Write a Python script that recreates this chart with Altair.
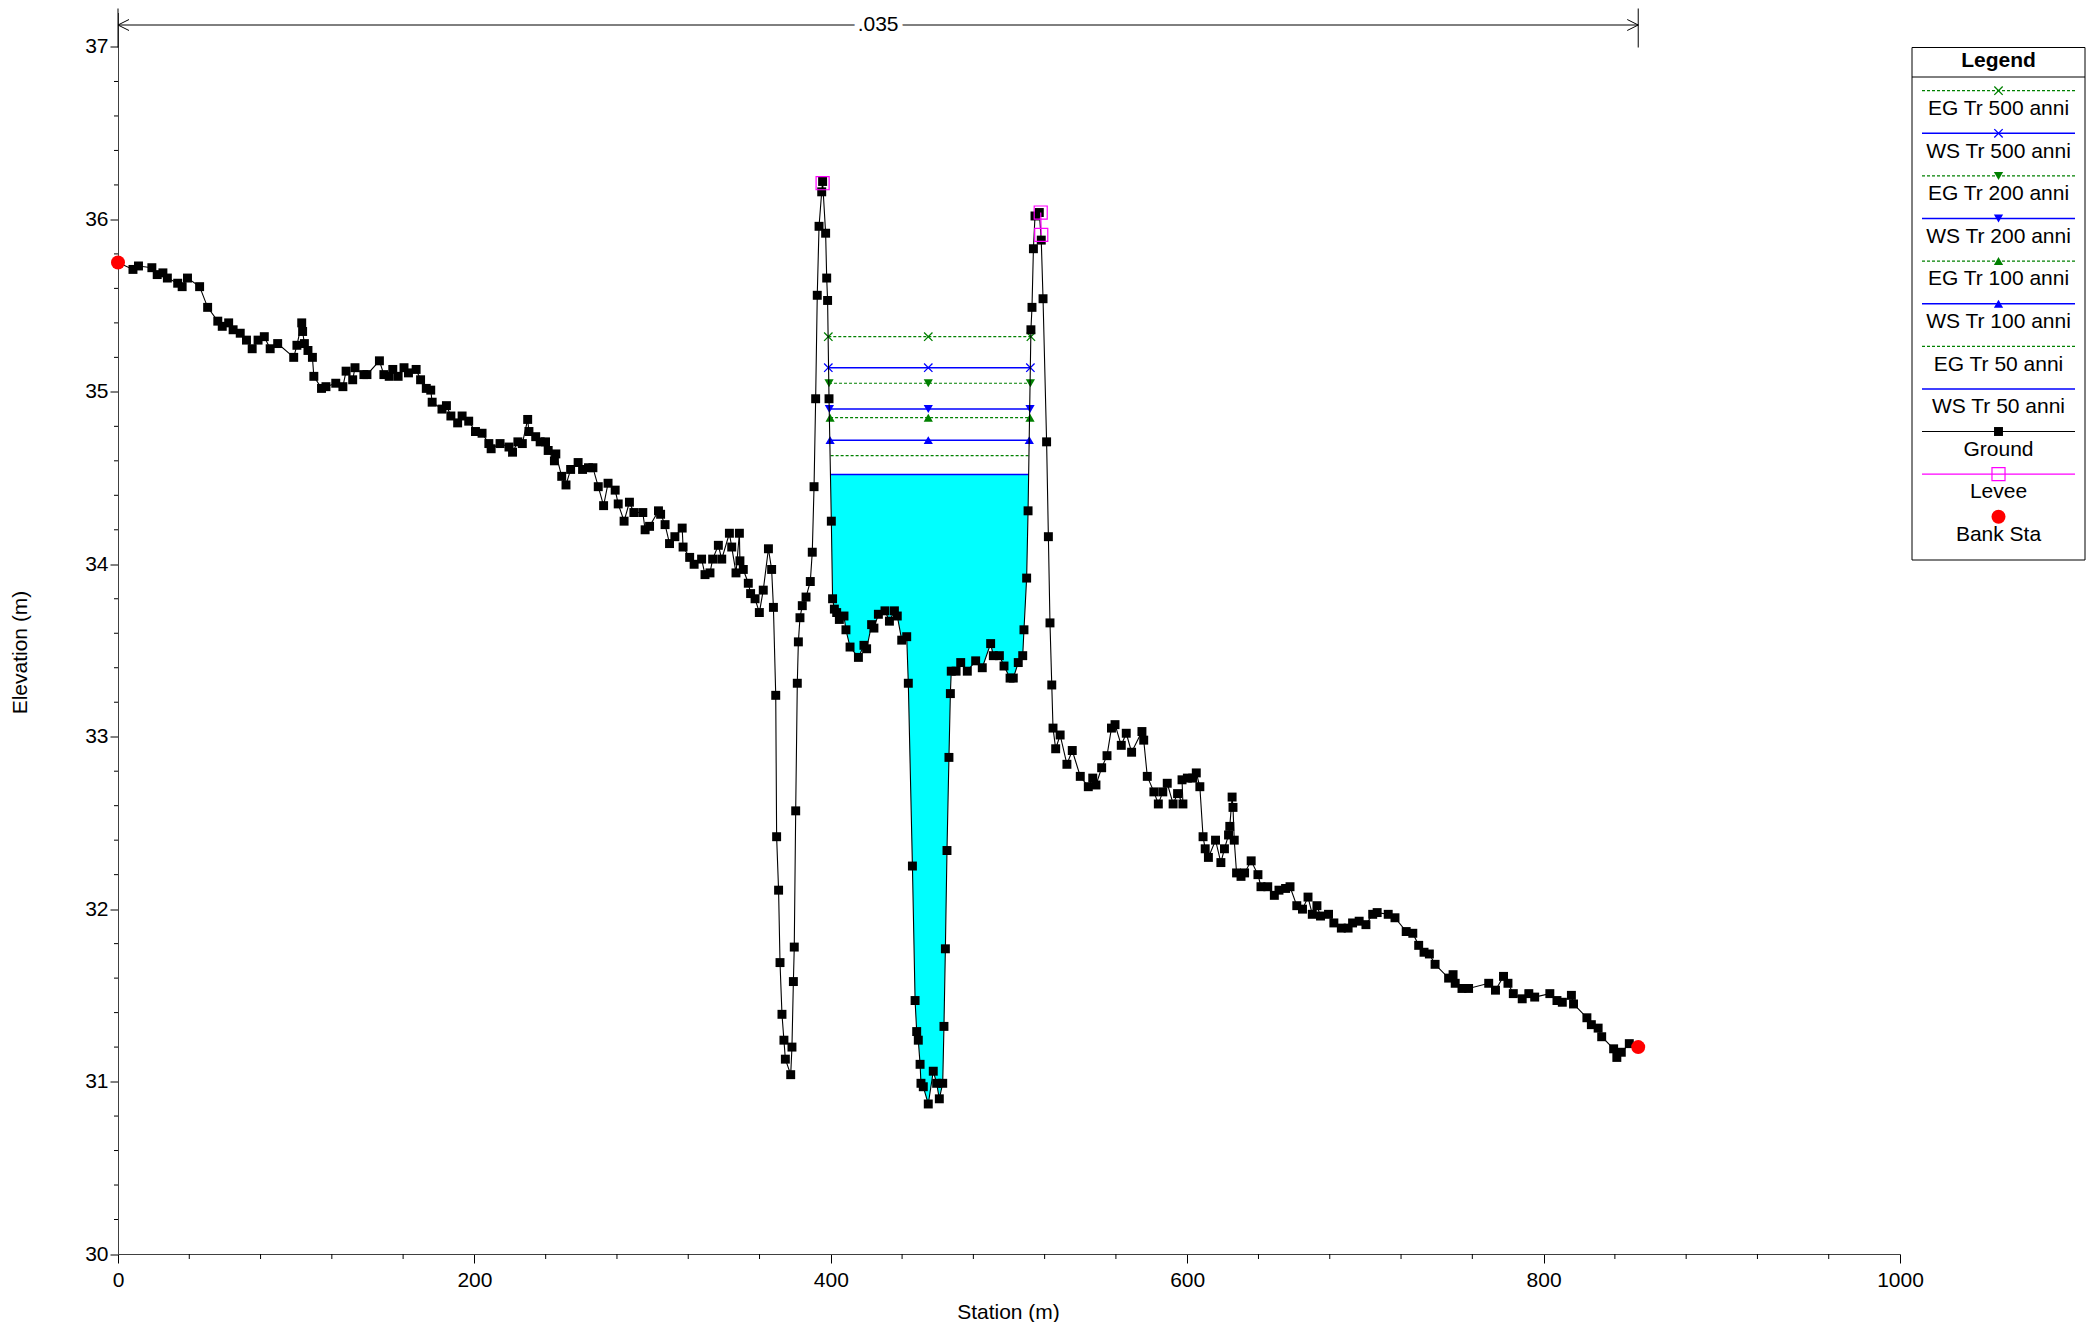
import altair as alt
import pandas as pd

FONT = "Liberation Sans"

# ---------------- data ----------------
ground_station = [
    0.0, 8.4, 11.5, 19.0, 22.0, 25.2, 27.7, 33.5, 36.0, 39.0, 45.8, 50.3, 56.0, 58.5, 62.1, 64.6,
    68.6, 72.1, 75.3, 78.6, 82.1, 85.4, 89.6, 98.6, 100.4, 103.1, 103.6, 104.6, 106.6, 109.1, 109.9,
    114.2, 116.7, 122.2, 126.2, 128.0, 131.7, 133.0, 138.0, 139.7, 146.7, 149.2, 152.2, 154.2, 157.2,
    160.5, 163.0, 167.3, 169.8, 173.0, 175.5, 176.3, 181.8, 184.3, 186.8, 190.6, 193.1, 196.8, 200.6,
    204.3, 208.1,
    209.4, 214.4, 219.4, 221.4, 224.4, 226.9, 229.9, 230.6, 234.4, 236.9, 239.9, 241.4, 244.9, 245.7,
    249.0, 251.4, 254.0, 258.2, 260.7, 264.0, 266.5, 269.5, 272.5, 275.0, 279.0, 280.7, 284.0, 287.0,
    289.5, 294.5, 295.8, 298.3, 303.3, 304.5, 307.0, 309.5, 312.5, 316.6, 317.1, 320.8, 323.3,
    327.5, 329.4, 332.2, 333.7, 336.9, 338.8, 343.1, 344.4, 346.8, 348.7, 349.0, 350.9, 353.7, 355.0,
    357.5, 359.9, 362.1, 365.0, 366.8, 367.8, 369.1,
    369.6, 370.7, 371.5, 372.6, 373.7, 374.5, 377.5, 378.2, 379.0, 379.5, 380.3, 381.2, 381.8, 382.7,
    384.0, 386.1, 388.5, 389.6, 390.6, 391.5, 392.4, 393.4, 394.9, 395.4, 397.1, 397.7, 398.2, 399.0,
    400.3, 401.0, 402.0, 403.3, 404.8, 407.4, 408.5, 410.8, 415.5, 418.6, 420.1, 422.9, 424.2, 426.7,
    430.4, 432.9, 435.7, 437.3, 439.8, 442.6, 443.5, 445.8, 447.3, 448.2, 449.1, 450.1, 450.6, 451.9,
    454.7, 457.5, 459.4, 460.9, 462.8, 463.5, 464.3, 465.2, 466.3, 467.1, 467.6, 470.3, 472.9, 476.6,
    481.3, 485.0, 489.7, 491.2, 494.6, 497.2, 500.6, 502.4, 505.2, 507.7, 508.4, 509.9, 510.7, 512.3,
    512.9, 513.7, 514.6, 517.0, 518.1, 519.1, 521.1, 522.1, 523.0, 524.0,
    524.7, 526.2, 528.7, 532.5, 535.5, 540.0, 544.5, 547.0, 548.8, 552.0, 555.0, 557.5, 559.5, 563.0,
    565.8, 568.8, 574.6, 575.6, 577.6, 581.3, 583.8, 586.3, 588.8, 592.1, 594.6, 597.6, 597.1, 600.1,
    603.1, 605.1, 607.1, 608.9, 610.1, 611.9, 615.9, 618.9, 620.9, 623.2, 623.9, 625.2, 625.7, 626.4,
    627.7, 630.2, 632.2, 635.9, 639.7, 641.4, 645.2, 648.9, 651.5, 655.2, 657.7, 661.5, 664.7, 667.8,
    670.2, 672.8, 674.8, 679.3, 682.3, 686.5, 690.3, 692.8, 696.5, 700.3, 704.1, 706.6, 712.8, 716.6,
    722.9, 726.6, 729.9, 732.9, 735.9, 739.1, 746.7, 749.2, 750.4, 754.2, 757.9, 769.2, 773.0, 777.5,
    780.0, 783.0, 788.0, 791.7, 795.0, 803.5, 807.5, 810.5, 815.6, 816.8, 824.3, 826.8, 830.6, 832.6,
    839.3, 841.1, 843.6, 848.1, 853.1,
]
ground_elevation = [
    35.75, 35.71, 35.73, 35.72, 35.68, 35.69, 35.66, 35.63, 35.61, 35.66, 35.61, 35.49, 35.41, 35.38,
    35.40, 35.36, 35.34, 35.30, 35.25, 35.30, 35.32, 35.25, 35.28, 35.20, 35.27, 35.40, 35.35, 35.28,
    35.24, 35.20, 35.09, 35.02, 35.03, 35.05, 35.03, 35.12, 35.07, 35.14, 35.10, 35.10, 35.18, 35.10,
    35.09, 35.13, 35.09, 35.14, 35.11, 35.13, 35.07, 35.02, 35.01, 34.94, 34.90, 34.92, 34.86, 34.82,
    34.86, 34.83, 34.77, 34.76, 34.70,
    34.67, 34.70, 34.68, 34.65, 34.71, 34.70, 34.84, 34.77, 34.74, 34.71, 34.71, 34.66, 34.60, 34.64,
    34.51, 34.46, 34.55, 34.59, 34.55, 34.56, 34.56, 34.45, 34.34, 34.47, 34.43, 34.35, 34.25, 34.36,
    34.30, 34.30, 34.20, 34.22, 34.31, 34.29, 34.23, 34.12, 34.16, 34.21, 34.10, 34.04, 34.00,
    34.03, 33.94, 33.95, 34.03, 34.11, 34.03, 34.18, 34.10, 33.95, 34.18, 34.02, 33.97, 33.89, 33.83,
    33.80, 33.72, 33.85, 34.09, 33.97, 33.75, 33.24,
    32.42, 32.11, 31.69, 31.39, 31.24, 31.13, 31.04, 31.20, 31.58, 31.78, 32.57, 33.31, 33.55, 33.69,
    33.76, 33.81, 33.90, 34.07, 34.45, 34.96, 35.56, 35.96, 36.16, 36.22, 35.92, 35.66, 35.53, 34.96,
    34.25, 33.80, 33.74, 33.72, 33.68, 33.70, 33.62, 33.52, 33.46, 33.53, 33.51, 33.65, 33.63, 33.71,
    33.73, 33.67, 33.73, 33.70, 33.56, 33.58, 33.31, 32.25, 31.47, 31.29, 31.24, 31.10, 30.99, 30.97,
    30.87, 31.06, 30.99, 30.90, 30.99, 31.32, 31.77, 32.34, 32.88, 33.25, 33.38, 33.38, 33.43, 33.38,
    33.44, 33.40, 33.54, 33.47, 33.47, 33.41, 33.34, 33.34, 33.43, 33.47, 33.62, 33.92, 34.31, 35.36,
    35.49, 35.83, 36.02, 36.04, 35.88, 35.54, 34.71, 34.16, 33.66, 33.30,
    33.05, 32.93, 33.01, 32.84, 32.92, 32.77, 32.71, 32.76, 32.72, 32.82, 32.89, 33.05, 33.07, 32.95,
    33.02, 32.91, 33.03, 32.98, 32.77, 32.68, 32.61, 32.68, 32.73, 32.61, 32.67, 32.61, 32.75, 32.76,
    32.76, 32.79, 32.71, 32.42, 32.35, 32.30, 32.40, 32.27, 32.35, 32.43, 32.48, 32.65, 32.59, 32.40,
    32.21, 32.19, 32.21, 32.28, 32.20, 32.13, 32.13, 32.08, 32.11, 32.12, 32.13, 32.02, 32.00, 32.07,
    31.97, 32.02, 31.96, 31.97, 31.92, 31.89, 31.89, 31.92, 31.93, 31.91, 31.97, 31.98, 31.97, 31.95,
    31.87, 31.86, 31.79, 31.75, 31.74, 31.68, 31.60, 31.62, 31.57, 31.54, 31.54, 31.57, 31.53, 31.61,
    31.57, 31.51, 31.48, 31.51, 31.49, 31.51, 31.47, 31.46, 31.50, 31.45, 31.37, 31.33, 31.31, 31.26,
    31.19, 31.14, 31.17, 31.22, 31.20,
]

levee_station = [395.4, 517.8, 518.1]
levee_elevation = [36.21, 36.04, 35.91]
levee_group = ["left", "right", "right"]

bank_station = [0.0, 853.1]
bank_elevation = [35.75, 31.20]

profile_names = ["EG Tr 500 anni", "WS Tr 500 anni", "EG Tr 200 anni", "WS Tr 200 anni",
                 "EG Tr 100 anni", "WS Tr 100 anni", "EG Tr 50 anni", "WS Tr 50 anni"]
profile_elevation = [35.32, 35.14, 35.05, 34.90, 34.85, 34.72, 34.63, 34.52]
profile_left = [398.6, 398.6, 399.0, 399.2, 399.6, 399.6, 399.9, 399.9]
profile_mid = [454.7, 454.7, 454.7, 454.7, 454.7, 454.7, 454.7, 454.7]
profile_right = [512.3, 512.0, 512.0, 511.8, 511.8, 511.4, 510.9, 510.9]

n_value_label = ".035"
n_value_start = 0.0
n_value_end = 853.1

x_tick_values = [0, 200, 400, 600, 800, 1000]
y_tick_values = [30, 31, 32, 33, 34, 35, 36, 37]
x_minor_values = [v for v in range(0, 1001, 40) if v % 200 != 0]
y_minor_values = [round(30 + 0.2 * k, 1) for k in range(36) if k % 5 != 0]

legend_names = profile_names + ["Ground", "Levee", "Bank Sta"]

# ---------------- styles / layout ----------------
W, H = 1782, 1241.5
EG_COLOR = "#008000"
WS_COLOR = "#0000FF"
LEVEE_COLOR = "#FF00FF"
BANK_COLOR = "#FF0000"
WATER_COLOR = "#00FFFF"
AXIS_COLOR = "#404040"
X_PATH = "M-1,-1L1,1M-1,1L1,-1"
LEFT_ARROW = "M2,-1L0,0L2,1"
RIGHT_ARROW = "M-2,-1L0,0L-2,1"
marker_of = {"500": "x", "200": "triangle-down", "100": "triangle-up", "50": None}
GROUND_SIZE = 80
TRI_SIZE = 85
X_SIZE = 70
LEVEE_SIZE = 170
BANK_SIZE = 196

XSCALE = alt.Scale(domain=[0, 1000], nice=False, zero=False)
YSCALE = alt.Scale(domain=[30, 37.2], nice=False, zero=False)
XAXIS = alt.Axis(values=x_tick_values, format="d", title="Station (m)", grid=False, tickSize=9,
                 tickColor="black", domainColor=AXIS_COLOR, labelFontSize=21, titleFontSize=21,
                 labelColor="black", titleColor="black", labelPadding=6, titleFontWeight="normal",
                 labelFlush=False, labelOverlap=False, titleX=890, titleY=58,
                 titleBaseline="middle", titleAlign="center")
YAXIS = alt.Axis(values=y_tick_values, format="d", title="Elevation (m)", grid=False, tickSize=8,
                 tickColor="black", domainColor=AXIS_COLOR, labelFontSize=21, titleFontSize=21,
                 labelColor="black", titleColor="black", labelPadding=2, titleFontWeight="normal",
                 labelFlush=False, labelOverlap=False, titleAngle=270, titleX=-98, titleY=639.5,
                 titleBaseline="middle", titleAlign="center")


def X(f):
    return alt.X(f"{f}:Q", scale=XSCALE, axis=XAXIS)


def Y(f):
    return alt.Y(f"{f}:Q", scale=YSCALE, axis=YAXIS)


def PX(f):
    return alt.X(f"{f}:Q", scale=None, axis=None)


def PY(f):
    return alt.Y(f"{f}:Q", scale=None, axis=None)


# ---------------- data frames ----------------
ground_df = pd.DataFrame({"station": ground_station, "elevation": ground_elevation,
                          "order": list(range(len(ground_station)))})

ws_i = profile_names.index("WS Tr 50 anni")
wl, wr, we = profile_left[ws_i], profile_right[ws_i], profile_elevation[ws_i]
inside = ground_df[(ground_df.station > wl) & (ground_df.station < wr)][["station", "elevation"]]
water_df = pd.concat([pd.DataFrame({"station": [wl], "elevation": [we]}), inside,
                      pd.DataFrame({"station": [wr], "elevation": [we]})], ignore_index=True)
water_df["ws"] = we

profile_df = pd.DataFrame({"name": profile_names, "elevation": profile_elevation,
                           "left": profile_left, "right": profile_right, "mid": profile_mid})
profile_df["kind"] = profile_df.name.str[:2]

mk_rows = []
for n, e, l, m, r in zip(profile_names, profile_elevation, profile_left, profile_mid, profile_right):
    shape = marker_of[n.split()[2]]
    if shape is None:
        continue
    color = EG_COLOR if n.startswith("EG") else WS_COLOR
    for s in (l, m, r):
        mk_rows.append({"station": s, "elevation": e, "shape": shape, "color": color})
mk_df = pd.DataFrame(mk_rows)

levee_df = pd.DataFrame({"station": levee_station, "elevation": levee_elevation, "group": levee_group})
bank_df = pd.DataFrame({"station": bank_station, "elevation": bank_elevation})

ann_df = pd.DataFrame({"start": [n_value_start], "end": [n_value_end], "label": [n_value_label]})
ann_df["mid"] = (ann_df.start + ann_df.end) / 2
ann_ends = pd.DataFrame({"station": [n_value_start, n_value_end], "path": [LEFT_ARROW, RIGHT_ARROW]})

# ---------------- main layers ----------------
layers = []
layers.append(alt.Chart(water_df).mark_area(color=WATER_COLOR, opacity=1).encode(
    x=X("station"), y=Y("elevation"), y2="ws:Q"))
layers.append(alt.Chart(profile_df[profile_df.kind == "EG"]).mark_rule(
    color=EG_COLOR, strokeDash=[3, 2], strokeWidth=1.2).encode(x=X("left"), x2="right:Q", y=Y("elevation")))
layers.append(alt.Chart(profile_df[profile_df.kind == "WS"]).mark_rule(
    color=WS_COLOR, strokeWidth=1.5).encode(x=X("left"), x2="right:Q", y=Y("elevation")))
layers.append(alt.Chart(mk_df[mk_df["shape"] == "x"]).mark_point(
    shape=X_PATH, filled=False, size=X_SIZE, strokeWidth=1.3, opacity=1).encode(
    x=X("station"), y=Y("elevation"), color=alt.Color("color:N", scale=None)))
layers.append(alt.Chart(mk_df[mk_df["shape"] != "x"]).mark_point(
    filled=True, size=TRI_SIZE, opacity=1).encode(
    x=X("station"), y=Y("elevation"), shape=alt.Shape("shape:N", scale=None),
    color=alt.Color("color:N", scale=None)))
layers.append(alt.Chart(ground_df).mark_line(color="black", strokeWidth=1.1).encode(
    x=X("station"), y=Y("elevation"), order="order:Q"))
layers.append(alt.Chart(ground_df).mark_point(shape="square", filled=True, size=GROUND_SIZE, color="black",
                                              opacity=1).encode(x=X("station"), y=Y("elevation")))
layers.append(alt.Chart(levee_df).mark_line(color=LEVEE_COLOR, strokeWidth=1.2).encode(
    x=X("station"), y=Y("elevation"), detail="group:N"))
layers.append(alt.Chart(levee_df).mark_point(shape="square", filled=False, size=LEVEE_SIZE, color=LEVEE_COLOR,
                                             strokeWidth=1.2, opacity=1).encode(x=X("station"), y=Y("elevation")))
layers.append(alt.Chart(bank_df).mark_point(shape="circle", filled=True, size=BANK_SIZE, color=BANK_COLOR,
                                            opacity=1).encode(x=X("station"), y=Y("elevation")))

# minor ticks
layers.append(alt.Chart(pd.DataFrame({"v": y_minor_values})).mark_rule(color="black").encode(
    y=Y("v"), x=alt.value(-4), x2=alt.value(0)))
layers.append(alt.Chart(pd.DataFrame({"v": x_minor_values})).mark_rule(color="black").encode(
    x=X("v"), y=alt.value(H), y2=alt.value(H + 5)))

# n-value annotation at the top
ANN_Y = 12.5
layers.append(alt.Chart(ann_df).mark_rule(color="black", strokeWidth=1).encode(
    x=X("start"), x2="end:Q", y=alt.value(ANN_Y)))
layers.append(alt.Chart(ann_ends).mark_rule(color="black", strokeWidth=1).encode(
    x=X("station"), y=alt.value(-4), y2=alt.value(35)))
layers.append(alt.Chart(ann_ends).mark_point(filled=False, size=121, color="black", strokeWidth=1,
                                             opacity=1).encode(
    x=X("station"), y=alt.value(ANN_Y), shape=alt.Shape("path:N", scale=None)))
layers.append(alt.Chart(ann_df).mark_text(fontSize=21, color="white", stroke="white", strokeWidth=10,
                                          baseline="middle").encode(
    x=X("mid"), y=alt.value(ANN_Y), text="label:N"))
layers.append(alt.Chart(ann_df).mark_text(fontSize=21, color="black", baseline="middle").encode(
    x=X("mid"), y=alt.value(ANN_Y), text="label:N"))

# ---------------- legend (pixel layout) ----------------
LX0, LX1, LY0, LY1 = 1794, 1967, 35, 547.5
LCX = (LX0 + LX1) / 2
LS0, LS1 = 1804, 1957
leg = pd.DataFrame({"name": legend_names, "i": list(range(len(legend_names)))})
leg["yl"] = 78.2 + 42.6 * leg.i
leg["yt"] = leg.yl + 18.3
leg["xs0"] = LS0
leg["xs1"] = LS1
leg["xc"] = LCX

layers.append(alt.Chart(pd.DataFrame({"x0": [LX0], "x1": [LX1], "y0": [LY0], "y1": [LY1]})).mark_rect(
    fill="white", stroke="black", strokeWidth=1).encode(x=PX("x0"), x2="x1:Q", y=PY("y0"), y2="y1:Q"))
layers.append(alt.Chart(pd.DataFrame({"x0": [LX0], "x1": [LX1], "y": [64.5]})).mark_rule(
    color="black", strokeWidth=1).encode(x=PX("x0"), x2="x1:Q", y=PY("y")))
layers.append(alt.Chart(pd.DataFrame({"x": [LCX], "y": [48.5], "t": ["Legend"]})).mark_text(
    fontSize=21, fontWeight="bold", color="black", baseline="middle", align="center").encode(
    x=PX("x"), y=PY("y"), text="t:N"))

eg_leg = leg[leg.name.str.startswith("EG")]
ws_leg = leg[leg.name.str.startswith("WS")]
layers.append(alt.Chart(eg_leg).mark_rule(color=EG_COLOR, strokeDash=[3, 2], strokeWidth=1.2).encode(
    x=PX("xs0"), x2="xs1:Q", y=PY("yl")))
layers.append(alt.Chart(ws_leg).mark_rule(color=WS_COLOR, strokeWidth=1.5).encode(
    x=PX("xs0"), x2="xs1:Q", y=PY("yl")))
layers.append(alt.Chart(leg[leg.name == "Ground"]).mark_rule(color="black", strokeWidth=1.1).encode(
    x=PX("xs0"), x2="xs1:Q", y=PY("yl")))
layers.append(alt.Chart(leg[leg.name == "Levee"]).mark_rule(color=LEVEE_COLOR, strokeWidth=1.2).encode(
    x=PX("xs0"), x2="xs1:Q", y=PY("yl")))

leg_mk = []
for _, r in leg.iterrows():
    if r["name"] in profile_names:
        shape = marker_of[r["name"].split()[2]]
        if shape is None:
            continue
        color = EG_COLOR if r["name"].startswith("EG") else WS_COLOR
        leg_mk.append({"xc": r.xc, "yl": r.yl, "shape": shape, "color": color})
leg_mk = pd.DataFrame(leg_mk)
layers.append(alt.Chart(leg_mk[leg_mk["shape"] == "x"]).mark_point(
    shape=X_PATH, filled=False, size=X_SIZE, strokeWidth=1.3, opacity=1).encode(
    x=PX("xc"), y=PY("yl"), color=alt.Color("color:N", scale=None)))
layers.append(alt.Chart(leg_mk[leg_mk["shape"] != "x"]).mark_point(filled=True, size=TRI_SIZE, opacity=1).encode(
    x=PX("xc"), y=PY("yl"), shape=alt.Shape("shape:N", scale=None), color=alt.Color("color:N", scale=None)))
layers.append(alt.Chart(leg[leg.name == "Ground"]).mark_point(
    shape="square", filled=True, size=GROUND_SIZE, color="black", opacity=1).encode(x=PX("xc"), y=PY("yl")))
layers.append(alt.Chart(leg[leg.name == "Levee"]).mark_point(
    shape="square", filled=False, size=LEVEE_SIZE, color=LEVEE_COLOR, strokeWidth=1.2, opacity=1).encode(
    x=PX("xc"), y=PY("yl")))
layers.append(alt.Chart(leg[leg.name == "Bank Sta"]).mark_point(
    shape="circle", filled=True, size=BANK_SIZE, color=BANK_COLOR, opacity=1).encode(x=PX("xc"), y=PY("yl")))
layers.append(alt.Chart(leg).mark_text(fontSize=21, color="black", baseline="middle", align="center").encode(
    x=PX("xc"), y=PY("yt"), text="name:N"))

chart = alt.layer(*layers).properties(
    width=W, height=H,
    padding={"left": 110, "top": 4.5, "right": 188, "bottom": 68},
    autosize=alt.AutoSizeParams(type="none"),
    background="white",
).configure(font=FONT).configure_view(stroke=None)

chart.save("out.html", embed_options={"renderer": "svg", "actions": False})
